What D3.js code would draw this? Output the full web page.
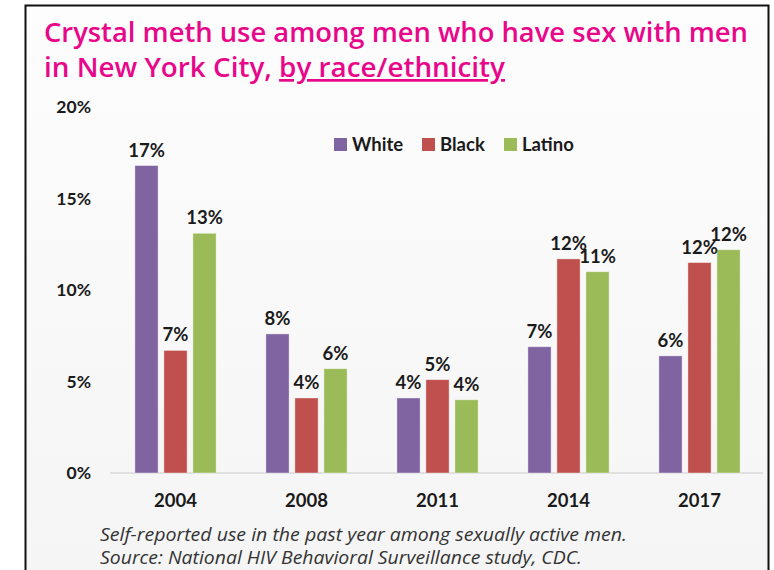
<!DOCTYPE html>
<html>
<head>
<meta charset="utf-8">
<script src="https://cdn.jsdelivr.net/npm/d3@7"></script>
<style>
  html, body { margin: 0; padding: 0; background: #ffffff; }
  svg { display: block; }
</style>
</head>
<body>
<svg id="chart" width="774" height="570"></svg>
<script>
// Survey years
const years = ["2004", "2008", "2011", "2014", "2017"];
// Race/ethnicity groups
const groups = ["White", "Black", "Latino"];
// Past-year crystal meth use, percent of sexually active MSM
const white  = [16.8, 7.6, 4.1, 6.9, 6.4];
const black  = [6.7, 4.1, 5.1, 11.7, 11.5];
const latino = [13.1, 5.7, 4.0, 11.0, 12.2];
const yTicks = [0, 5, 10, 15, 20];
const colors = ["#8064A2", "#C0504D", "#9BBB59"];

const titleLines = ["Crystal meth use among men who have sex with men", "in New York City, "];
const titleUnderlined = "by race/ethnicity";
const notes = [
  "Self-reported use in the past year among sexually active men.",
  "Source: National HIV Behavioral Surveillance study, CDC."
];
const noteWidths = [527, 482];

const seriesValues = [white, black, latino];
const rows = years.map((yr, i) => ({
  year: yr,
  values: groups.map((g, j) => ({ group: g, value: seriesValues[j][i], color: colors[j] }))
}));

const svg = d3.select("#chart");
const font = "Lato, 'Open Sans', sans-serif";
const ink = "#1a1a1a";

// Panel background with subtle vertical gradient
const defs = svg.append("defs");
const grad = defs.append("linearGradient").attr("id", "panelBg")
  .attr("x1", 0).attr("y1", 0).attr("x2", 0).attr("y2", 1);
grad.append("stop").attr("offset", "0%").attr("stop-color", "#fdfdfd");
grad.append("stop").attr("offset", "100%").attr("stop-color", "#f4f4f4");

svg.append("rect")
  .attr("x", 25.5).attr("y", 5.5)
  .attr("width", 743).attr("height", 620)
  .attr("fill", "url(#panelBg)")
  .attr("stroke", "#111").attr("stroke-width", 2);

// Title
const title = svg.append("g").attr("font-family", "'Open Sans', sans-serif")
  .attr("font-weight", 600).attr("fill", "#E8078A").attr("font-size", 27);
title.append("text").attr("x", 44).attr("y", 42)
  .attr("textLength", 704).attr("lengthAdjust", "spacingAndGlyphs")
  .text(titleLines[0]);
const t2 = title.append("text").attr("x", 44).attr("y", 77);
t2.append("tspan").text(titleLines[1]);
t2.append("tspan").attr("text-decoration", "underline").text(titleUnderlined);
t2.attr("textLength", 461).attr("lengthAdjust", "spacingAndGlyphs");

// Scales
const x0 = d3.scaleBand().domain(years).range([110, 765])
  .paddingInner(0.38).paddingOuter(0.19);
const x1 = d3.scaleBand().domain(groups).range([0, x0.bandwidth()])
  .paddingInner(0.2).paddingOuter(0);
const y = d3.scaleLinear().domain([0, 20]).range([473, 107]);

// Y axis labels (no axis line or ticks drawn)
const yAxis = svg.append("g").attr("transform", "translate(91,0)")
  .call(d3.axisLeft(y).tickValues(yTicks).tickFormat(d => d + "%").tickSize(0).tickPadding(0));
yAxis.select(".domain").remove();
yAxis.selectAll("text")
  .attr("font-family", font).attr("font-weight", 700)
  .attr("font-size", 17.5).attr("fill", ink);

// Baseline
svg.append("line")
  .attr("x1", 110).attr("x2", 763)
  .attr("y1", y(0)).attr("y2", y(0))
  .attr("stroke", "#d9d9d9").attr("stroke-width", 1.5);

// X axis labels
const xAxis = svg.append("g").attr("transform", `translate(0,${y(0)})`)
  .call(d3.axisBottom(x0).tickSize(0).tickPadding(21));
xAxis.select(".domain").remove();
xAxis.selectAll("text")
  .attr("font-family", font).attr("font-weight", 700)
  .attr("font-size", 18.5).attr("fill", ink);

// Bars and value labels
const grp = svg.selectAll("g.year").data(rows).join("g")
  .attr("class", "year")
  .attr("transform", d => `translate(${x0(d.year)},0)`);

grp.selectAll("rect").data(d => d.values).join("rect")
  .attr("x", d => x1(d.group))
  .attr("width", x1.bandwidth())
  .attr("y", d => y(d.value))
  .attr("height", d => y(0) - y(d.value))
  .attr("fill", d => d.color)
  .attr("stroke", "#ffffff").attr("stroke-opacity", 0.5).attr("stroke-width", 0.8);

grp.selectAll("text.val").data(d => d.values).join("text")
  .attr("class", "val")
  .attr("x", d => x1(d.group) + x1.bandwidth() / 2)
  .attr("y", d => y(d.value) - 9)
  .attr("text-anchor", "middle")
  .attr("font-family", font).attr("font-weight", 700)
  .attr("font-size", 18.5).attr("fill", ink)
  .text(d => Math.round(d.value) + "%");

// Legend
const legendX = [334, 422, 504];
const legend = svg.append("g").selectAll("g").data(groups).join("g")
  .attr("transform", (d, i) => `translate(${legendX[i]},138)`);
legend.append("rect").attr("width", 13).attr("height", 13)
  .attr("fill", (d, i) => colors[i]);
legend.append("text").attr("x", 18).attr("y", 13)
  .attr("font-family", font).attr("font-weight", 700)
  .attr("font-size", 18.5).attr("fill", ink)
  .text(d => d);

// Notes
svg.append("g").selectAll("text").data(notes).join("text")
  .attr("x", 100).attr("y", (d, i) => 541 + i * 23)
  .attr("font-family", "'Open Sans', sans-serif").attr("font-style", "italic")
  .attr("font-size", 17.5).attr("fill", "#333")
  .attr("textLength", (d, i) => noteWidths[i]).attr("lengthAdjust", "spacingAndGlyphs")
  .text(d => d);
</script>
</body>
</html>
